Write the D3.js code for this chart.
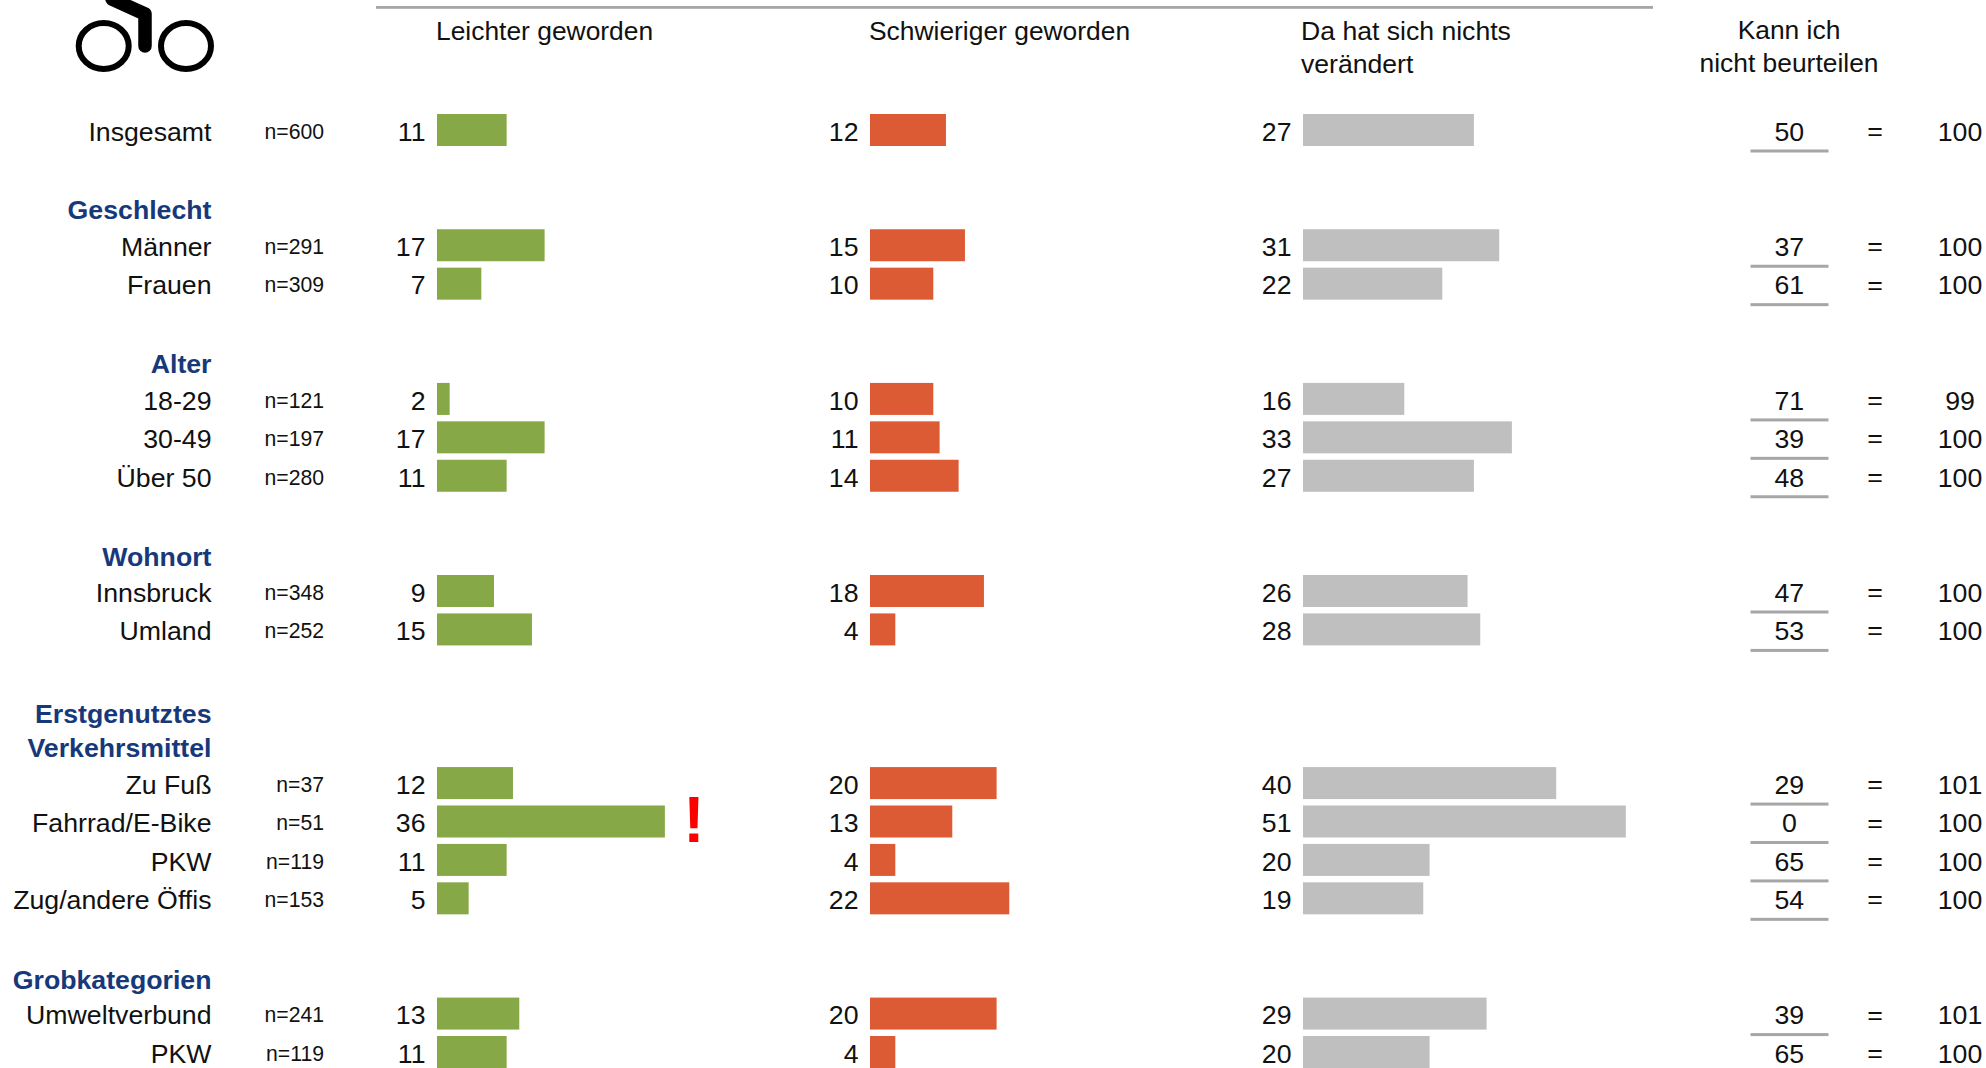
<!DOCTYPE html>
<html lang="de">
<head>
<meta charset="utf-8">
<title>Radfahren</title>
<script src="https://cdn.jsdelivr.net/npm/d3@7"></script>
<style>
html,body{margin:0;padding:0;background:#fff;overflow:hidden}
svg{display:block}
text{font-family:"Liberation Sans",Arial,sans-serif;fill:#111}
</style>
</head>
<body>
<svg id="chart" width="1986" height="1068"></svg>
<script>
const labels = ["Insgesamt","Männer","Frauen","18-29","30-49","Über 50","Innsbruck","Umland","Zu Fuß","Fahrrad/E-Bike","PKW","Zug/andere Öffis","Umweltverbund","PKW"];
const slots  = [0,3,4,7,8,9,12,13,17,18,19,20,23,24];
const sizes  = [600,291,309,121,197,280,348,252,37,51,119,153,241,119];
const easier = [11,17,7,2,17,11,9,15,12,36,11,5,13,11];
const harder = [12,15,10,10,11,14,18,4,20,13,4,22,20,4];
const same   = [27,31,22,16,33,27,26,28,40,51,20,19,29,20];
const unsure = [50,37,61,71,39,48,47,53,29,0,65,54,39,65];
const totals = [100,100,100,99,100,100,100,100,101,100,100,100,101,100];
const groupLabels = ["Geschlecht","Alter","Wohnort","Erstgenutztes","Verkehrsmittel","Grobkategorien"];
const groupSlots  = [2.08,6.08,11.09,15.2,16.08,22.1];
const columns = [
  {values:easier, x0:437, color:"#86a846"},
  {values:harder, x0:870, color:"#dc5b35"},
  {values:same,   x0:1303, color:"#bfbfbf"}
];

const FS = 26.7, HS = 26.4, GREY = "#a6a6a6";
const svg = d3.select("#chart");
const y = d3.scaleLinear().domain([0,24]).range([130,1052]);
const w = d3.scaleLinear().domain([0,100]).range([0,633]);
const barH = 32;
const rows = labels.map((l,i)=>i);

function text(sel,{x,y:yy,t,anchor="start",size=FS,weight=null,fill=null}){
  return sel.append("text").attr("x",x).attr("y",yy).attr("text-anchor",anchor)
    .attr("font-size",size).attr("font-weight",weight).style("fill",fill).text(t);
}

// icon
const icon = svg.append("g").attr("fill","none").attr("stroke","#000");
[[103.7,46],[186,46]].forEach(([cx,cy])=>icon.append("ellipse")
  .attr("cx",cx).attr("cy",cy).attr("rx",25).attr("ry",23).attr("stroke-width",6));
icon.append("path").attr("d","M112,-1 L145,14 L145,46").attr("stroke-width",13.5)
  .attr("stroke-linecap","round").attr("stroke-linejoin","round");

// top rule
svg.append("rect").attr("x",376).attr("y",6).attr("width",1277).attr("height",2.8).attr("fill",GREY);

// column headers
text(svg,{x:436,y:40,t:"Leichter geworden",size:HS});
text(svg,{x:869,y:40,t:"Schwieriger geworden",size:HS});
text(svg,{x:1301,y:40,t:"Da hat sich nichts",size:26.6});
text(svg,{x:1301,y:73,t:"verändert",size:26.6});
text(svg,{x:1789,y:39,t:"Kann ich",anchor:"middle",size:HS});
text(svg,{x:1789,y:72,t:"nicht beurteilen",anchor:"middle",size:HS});

// group headings
groupLabels.forEach((g,i)=>text(svg,{x:211.5,y:y(groupSlots[i])+9.5,t:g,anchor:"end",weight:"bold",fill:"#17397a"}));

// row labels
svg.append("g").selectAll("text").data(rows).join("text")
  .attr("x",211.5).attr("y",i=>y(slots[i])+10.8).attr("text-anchor","end").attr("font-size",FS).text(i=>labels[i]);
svg.append("g").selectAll("text").data(rows).join("text")
  .attr("x",324).attr("y",i=>y(slots[i])+8.8).attr("text-anchor","end").attr("font-size",21.2).text(i=>"n="+sizes[i]);

// bars and values
columns.forEach(c=>{
  const g = svg.append("g");
  g.selectAll("rect").data(rows).join("rect")
    .attr("x",c.x0).attr("y",i=>y(slots[i])-barH/2).attr("height",barH)
    .attr("width",i=>w(c.values[i])).attr("fill",c.color);
  g.selectAll("text").data(rows).join("text")
    .attr("x",c.x0-11.5).attr("y",i=>y(slots[i])+10.8).attr("text-anchor","end").attr("font-size",FS)
    .text(i=>c.values[i]);
});

// unsure column
const u = svg.append("g");
u.selectAll("text.v").data(rows).join("text").attr("class","v")
  .attr("x",1789.3).attr("y",i=>y(slots[i])+10.8).attr("text-anchor","middle").attr("font-size",FS).text(i=>unsure[i]);
u.selectAll("rect").data(rows.slice(0,-1)).join("rect")
  .attr("x",1750.5).attr("width",78).attr("y",i=>y(slots[i])+19.5).attr("height",3).attr("fill",GREY);
u.selectAll("text.e").data(rows).join("text").attr("class","e")
  .attr("x",1875).attr("y",i=>y(slots[i])+10).attr("text-anchor","middle").attr("font-size",FS).text("=");
u.selectAll("text.t").data(rows).join("text").attr("class","t")
  .attr("x",1960).attr("y",i=>y(slots[i])+10.8).attr("text-anchor","middle").attr("font-size",FS).text(i=>totals[i]);

// exclamation mark
text(svg,{x:694,y:842,t:"!",anchor:"middle",size:64,weight:"bold",fill:"#ff0000"});
</script>
</body>
</html>
